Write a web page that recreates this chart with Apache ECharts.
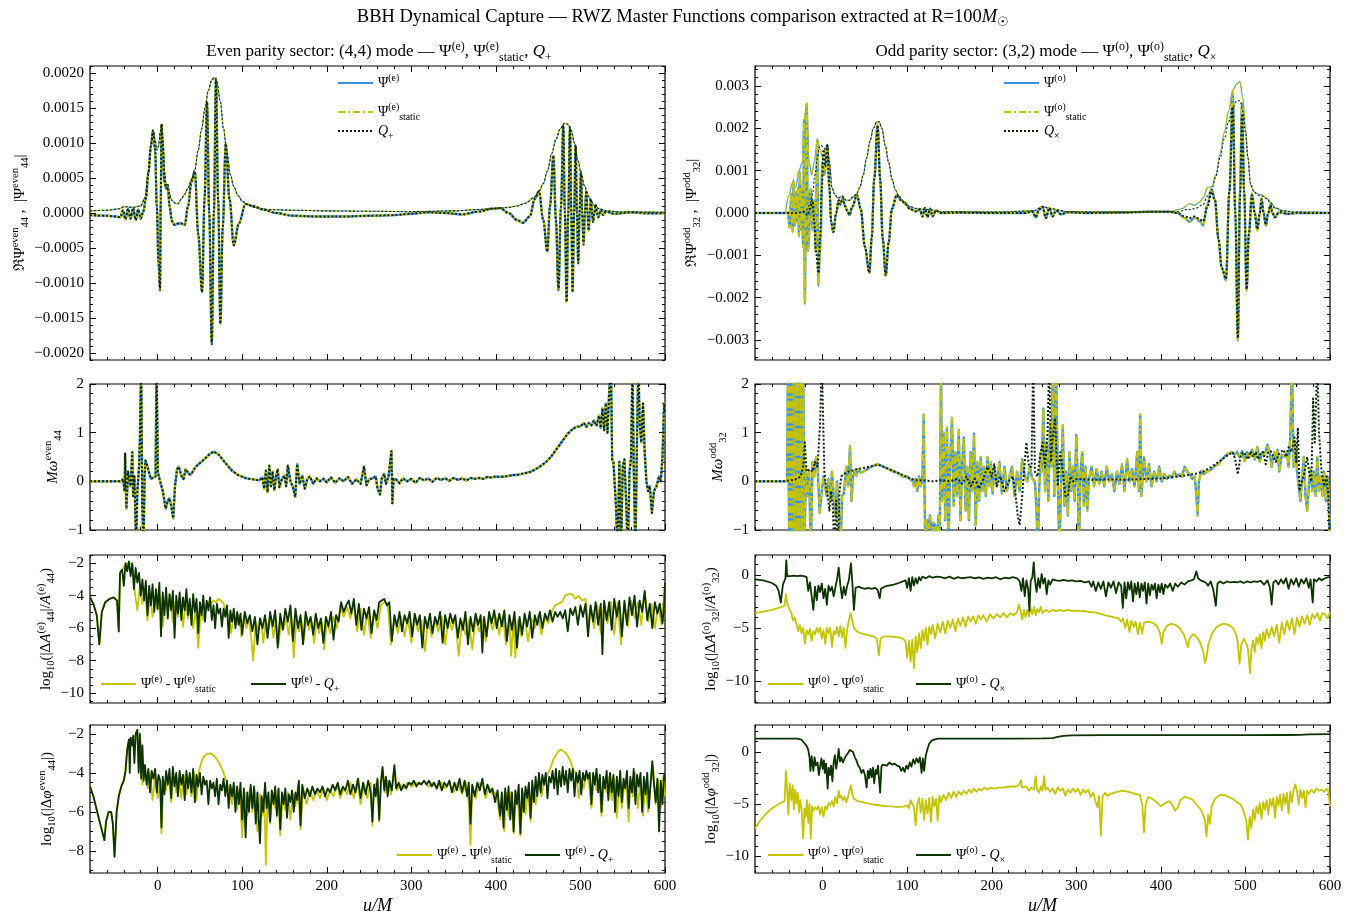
<!DOCTYPE html>
<html><head><meta charset="utf-8"><title>BBH Dynamical Capture</title>
<script src="https://cdn.jsdelivr.net/npm/echarts@6/dist/echarts.min.js"></script>
<style>html,body{margin:0;padding:0;background:#fff}#c{width:1356px;height:913px}</style>
</head><body><div id="c"></div><script>
// ---------------- DATA (u/M, value) ----------------
const PSI_UNIT = 1e-3; // row-1 waveform values are listed in units of 1e-3
const xMajorTicks = [0,100,200,300,400,500,600];
const yTicksReEven = [-0.002,-0.0015,-0.001,-0.0005,0,0.0005,0.001,0.0015,0.002];
const yTicksReOdd = [-0.003,-0.002,-0.001,0,0.001,0.002,0.003];
const yTicksOmega = [-1,0,1,2];
const yTicksAmpEven = [-10,-8,-6,-4,-2];
const yTicksAmpOdd = [-10,-5,0];
const yTicksPhEven = [-8,-6,-4,-2];
const yTicksPhOdd = [-10,-5,0];

const psiEvenRe = [[-80,-0.03],[-70,-0.035],[-60,-0.04],[-50,-0.05],[-44,-0.06],[-41,0.04],[-38,-0.09],[-35,0.06],[-32,-0.08],[-29,0.07],[-26,-0.1],[-23,0.05],[-20,-0.08],[-17,0.02],[-14,0.2],[-11,0.55],[-8,0.95],[-5.5,1.18],[-3,0.9],[-1,0.1],[1,-0.7],[2.8,-1.10],[3.7,0.2],[4.6,1.27],[6,1.0],[8,0.45],[10,0.35],[12,0.4],[14,0.1],[17,-0.12],[20,-0.17],[24,-0.15],[28,-0.15],[32,-0.17],[36,0.1],[40,0.45],[44,0.59],[48,-0.3],[52.5,-1.13],[55.5,0.2],[58.4,1.59],[61,0.0],[64,-1.87],[66.5,0.0],[69,1.92],[71.5,0.2],[74.2,-1.58],[77,-0.2],[80.5,0.99],[85,0.2],[90,-0.46],[96,-0.15],[104,0.13],[112,0.1],[125,0.05],[140,0.0],[160,-0.04],[190,-0.05],[220,-0.05],[250,-0.04],[280,-0.03],[300,-0.01],[320,0.01],[340,0.0],[360,-0.02],[380,0.02],[395,0.06],[405,0.07],[415,0.0],[425,-0.1],[432,-0.14],[440,-0.05],[446,0.2],[451,0.31],[456,-0.1],[460.8,-0.55],[464,0.1],[468,0.82],[471,-0.1],[474,-1.10],[477,0.1],[479.7,1.25],[481.6,0.0],[483.6,-1.27],[485.6,0.0],[487.6,1.23],[489.2,0.0],[490.7,-1.13],[492.5,0.0],[494.3,0.97],[495.9,0.0],[497.4,-0.72],[499,0.0],[500.6,0.59],[502.1,0],[503.7,-0.45],[505.3,0],[506.9,0.32],[508.3,0],[509.7,-0.25],[511,0],[512.4,0.2],[513.7,0],[515,-0.13],[516.5,0],[518,0.12],[519.5,0],[521,-0.06],[524,0.04],[527,-0.03],[530,0.02],[540,-0.01],[560,0.01],[580,-0.005],[600,0.0]];
const psiEvenAbs = [[-80,0.03],[-60,0.04],[-45,0.06],[-40,0.09],[-30,0.08],[-20,0.1],[-15,0.22],[-11,0.6],[-8,0.98],[-5.5,1.18],[-3,1.05],[-1,0.9],[1,0.95],[3,1.15],[4.6,1.27],[6,1.05],[8,0.6],[10,0.42],[13,0.3],[17,0.18],[21,0.14],[24,0.13],[28,0.2],[32,0.27],[36,0.36],[40,0.48],[44,0.62],[48,0.9],[52,1.2],[56,1.5],[60,1.75],[64,1.9],[67,1.93],[70,1.88],[74,1.6],[78,1.2],[82,0.85],[86,0.55],[90,0.38],[95,0.25],[100,0.17],[106,0.12],[115,0.08],[130,0.05],[160,0.04],[200,0.03],[250,0.025],[300,0.02],[350,0.03],[380,0.05],[395,0.06],[405,0.07],[415,0.08],[425,0.1],[435,0.14],[445,0.22],[451,0.31],[456,0.42],[461,0.6],[466,0.85],[471,1.05],[476,1.2],[481,1.28],[485,1.27],[489,1.18],[493,1.0],[497,0.75],[501,0.55],[505,0.38],[509,0.25],[513,0.16],[517,0.1],[522,0.06],[530,0.03],[550,0.015],[600,0.01]];

const psiOddRe = [[-80,0],[-60,0],[-45,0],[-41,0.02],[-39,-0.35],[-37,0.45],[-35.5,-0.45],[-34.5,0.77],[-33,-0.3],[-31.5,0.5],[-30.5,-0.2],[-29,0.6],[-28,-0.55],[-27,0.97],[-25.5,-0.4],[-24.5,0.6],[-23,-0.8],[-22,2.2],[-21,-2.14],[-19.8,1.4],[-18.8,2.58],[-17.5,-0.9],[-16.4,-0.69],[-15,0.5],[-14,0.57],[-12,-0.4],[-10,0.3],[-8.3,-0.92],[-6.3,1.72],[-5.1,-1.71],[-3.5,-1.0],[-2.4,-0.61],[-0.4,1.2],[2,0.9],[5.5,1.6],[8,0.6],[10,-0.2],[12.6,-0.45],[16,0.0],[19,0.3],[21,0.2],[23.5,0.35],[27,0.15],[29,0.05],[31.8,-0.05],[35,0.15],[40.6,0.42],[45,0.1],[50,-0.8],[55.2,-1.41],[58,-0.6],[61,0.8],[65,2.07],[68,0.8],[71,-0.6],[74.6,-1.47],[78,-0.7],[82,0.1],[87.6,0.42],[93,0.3],[97.6,0.22],[103,0.1],[110,0.04],[115,0.08],[118,-0.08],[121,0.12],[124,-0.1],[127,0.1],[130,-0.08],[134,0.06],[140,0.0],[160,0.01],[200,0.0],[240,0.0],[248,0.04],[252,-0.1],[256,0.08],[260,0.15],[264,-0.12],[268,0.12],[272,-0.08],[276,0.06],[282,-0.03],[290,0.02],[310,0.0],[350,0.01],[390,0.03],[410,0.03],[420,0.0],[428,-0.12],[434,-0.21],[440,-0.1],[446,-0.2],[450,-0.29],[455,0.2],[460,0.57],[464,0.3],[468,-0.6],[472,-1.3],[477,-1.59],[481,0.5],[485,2.86],[488,0.0],[491,-3.01],[493.5,0.5],[496,2.6],[498.5,0.5],[501.4,-1.83],[504,-0.5],[507.7,0.46],[511,0.0],[514,-0.41],[517,0.0],[519,0.35],[521.5,0.0],[524,-0.3],[527,0.0],[529.6,0.2],[532,0.0],[534.8,-0.1],[540,0.02],[550,-0.02],[560,0.0],[600,0.0]];
const psiOddAbs = [[-80,0],[-45,0.0],[-40,0.4],[-36,0.7],[-32,0.6],[-28,1.0],[-24,1.2],[-22,2.2],[-18.8,2.6],[-16,1.2],[-13,0.9],[-10,1.2],[-6.3,1.75],[-3,1.5],[0,1.3],[3,1.45],[5.5,1.62],[8,1.2],[11,0.6],[14,0.45],[18,0.35],[23,0.4],[28,0.3],[32,0.3],[36,0.38],[40,0.45],[44,0.6],[48,0.9],[52,1.3],[56,1.7],[60,2.0],[64,2.15],[67,2.15],[70,2.0],[74,1.6],[78,1.2],[82,0.8],[86,0.55],[90,0.4],[96,0.27],[103,0.15],[112,0.1],[125,0.08],[140,0.03],[200,0.02],[250,0.05],[260,0.15],[270,0.1],[290,0.03],[350,0.02],[410,0.03],[425,0.1],[434,0.22],[440,0.18],[445,0.25],[450,0.35],[455,0.6],[460,0.62],[465,0.9],[470,1.4],[475,1.9],[480,2.4],[485,2.9],[490,3.05],[493.5,3.1],[497,2.7],[500,2.0],[503,1.3],[506,0.65],[510,0.5],[515,0.45],[520,0.42],[525,0.35],[530,0.25],[535,0.12],[545,0.05],[560,0.02],[600,0.01]];
const qOddReEarly = [[-80,0],[-45,0],[-30,0.0],[-22,0.03],[-18,-0.05],[-15,0.1],[-12,0.3],[-10,-0.2],[-8,-0.9],[-5,-1.42],[-3,-0.6],[-1,0.6],[1,1.5],[3,1.1],[5.5,1.6]];
const qOddReLate = [[420,0.0],[428,-0.08],[434,-0.12],[440,-0.08],[446,-0.15],[450,-0.2],[455,0.15],[460,0.5],[464,0.3],[468,-0.6],[472,-1.3],[477,-1.55],[481,0.5],[485,2.5],[488,0.0],[491,-2.95],[493.5,0.3],[496,2.3],[498.5,0.5],[501.4,-1.8],[504,-0.5],[507.7,0.42],[511,0.0],[514,-0.38],[517,0.0],[519,0.32],[521.5,0.0],[524,-0.28],[527,0.0],[529.6,0.18],[532,0.0],[534.8,-0.1],[540,0.02],[550,-0.02],[560,0.0],[600,0.0]];
const qOddAbsEarly = [[-80,0],[-30,0.0],[-20,0.05],[-15,0.2],[-12,0.45],[-9,0.9],[-6,1.3],[-4,1.55],[-2,1.6],[1,1.55],[3,1.5],[5.5,1.62]];
const qOddAbsLate = [[420,0.03],[430,0.08],[440,0.1],[450,0.2],[455,0.4],[460,0.55],[465,0.85],[470,1.3],[475,1.75],[480,2.15],[485,2.5],[490,2.65],[493.5,2.65],[497,2.4],[500,1.9],[503,1.3],[506,0.7],[510,0.5],[515,0.42],[520,0.4],[525,0.33],[530,0.23],[535,0.12],[545,0.05],[560,0.02],[600,0.01]];

const omegaEven = [[-80,0],[-60,0],[-43,0],[-41,0.05],[-39,-0.2],[-38.5,0.57],[-37,-0.56],[-35,0.2],[-34,0.07],[-32,-0.1],[-30,0.6],[-29,-0.3],[-27.5,0.1],[-25.5,-1.3],[-24,-0.2],[-22,0.3],[-21,0.84],[-19.5,2.5],[-18.2,-0.5],[-16.6,-1.4],[-15.5,0.1],[-14.4,0.43],[-12,0.3],[-8,0.05],[-5,0.08],[-2.5,0.1],[-1.3,2.5],[0.2,0.2],[1.5,0.09],[3,0.0],[6,-0.2],[9.6,-0.56],[12,-0.4],[14,-0.35],[16,-0.5],[18.4,-0.76],[20.5,-0.1],[23,0.25],[25,0.3],[28,0.12],[30.6,0.05],[33,0.25],[35,0.28],[37,0.15],[39.4,0.14],[45,0.3],[55,0.45],[62,0.57],[66.5,0.61],[72,0.55],[80,0.38],[88,0.22],[95,0.13],[105,0.06],[114,0.04],[120,0.02],[124,0.08],[126,-0.15],[128,0.22],[130,-0.22],[132,0.32],[134,-0.1],[136,0.2],[138,-0.18],[140,0.1],[142,0.25],[144,-0.12],[147,0.05],[150,0.12],[152,-0.1],[154,0.32],[157,0.0],[160,-0.12],[162.7,-0.32],[165,0.35],[168,-0.05],[171,0.12],[174,-0.15],[177,0.05],[180,0.1],[184,-0.05],[188,0.06],[192,0.0],[196,0.05],[200,-0.02],[205,0.08],[210,-0.03],[215,0.06],[220,0.0],[225,0.09],[230,-0.05],[235,0.04],[240,-0.05],[244,0.3],[247,-0.08],[250,0.04],[254,0.06],[258,0.1],[260,-0.15],[263,-0.27],[265,0.05],[268,0.15],[270,-0.05],[273,0.1],[276.5,0.62],[277.5,-0.45],[279,0.05],[282,0.04],[286,-0.04],[290,0.06],[295,0.0],[300,0.05],[305,-0.03],[310,0.07],[315,0.02],[320,0.06],[325,-0.01],[330,0.07],[335,0.03],[340,0.06],[345,0.01],[350,0.07],[355,0.03],[360,0.06],[365,0.02],[370,0.07],[375,0.05],[380,0.07],[385,0.05],[390,0.09],[395,0.08],[400,0.1],[405,0.09],[410,0.1],[415,0.11],[420,0.13],[425,0.13],[430,0.15],[435,0.17],[440,0.19],[445,0.23],[450,0.28],[455,0.34],[460,0.41],[465,0.5],[470,0.62],[475,0.74],[480,0.86],[485,0.98],[490,1.06],[495,1.12],[500,1.13],[504,1.2],[507,1.12],[510,1.2],[513,1.15],[516,1.25],[519,1.14],[522,1.35],[524,1.1],[526,1.5],[528,1.05],[530,1.6],[532,1.0],[534,1.85],[536,2.5],[537.5,0.45],[539,0.4],[542,-0.5],[544,-1.5],[546,0.4],[548,-1.5],[550,0.3],[552,0.45],[554,-0.4],[556,-1.5],[558,0.2],[560,0.5],[561.5,2.5],[563,0.3],[565,-1.5],[567,1.0],[568.5,2.5],[570,1.2],[572,0.8],[574,1.6],[576,0.6],[578,0.0],[580,-0.2],[582,-0.1],[584.5,-0.65],[587,-0.2],[590,-0.1],[593,0.1],[595,0.0],[597,0.5],[599,1.6],[600,1.4]];
const omegaOdd = [[-80,0],[-60,0],[-42,0],[-41,2.5],[-39.5,-1.5],[-38,2.5],[-36.5,-1.5],[-35,2.5],[-33.5,-1.5],[-32,2.5],[-30.5,-1.5],[-29,2.5],[-27.5,-1.5],[-26,2.5],[-24.5,-1.5],[-23,2.5],[-21.5,-1.5],[-20,0.3],[-18,-0.3],[-16,0.2],[-14,-1.5],[-12,0.4],[-10,0.1],[-7.8,0.5],[-6,0.3],[-3.5,-0.65],[-1,-0.2],[1,0.1],[3,-0.1],[5,-0.3],[7,0.05],[9.6,-0.4],[11,0.2],[13,-0.3],[15,-0.7],[17,0.0],[19,-0.6],[21,-1.5],[23,-0.3],[25,-0.25],[28,0.3],[30,-0.1],[32.4,0.72],[34,-0.4],[36,0.1],[38,0.22],[40,0.12],[42,0.25],[45,0.18],[48,0.2],[52,0.24],[56,0.28],[60,0.32],[64,0.35],[67,0.34],[72,0.3],[78,0.25],[84,0.2],[90,0.16],[95,0.1],[100,0.1],[103,0.05],[106,0.02],[108,-0.1],[110,0.05],[112,-0.2],[114,0.1],[116,-0.1],[118,0.05],[119.5,1.37],[120.5,-0.2],[121.5,-1.5],[123,-0.8],[125,-0.95],[127,-0.7],[129,-1.2],[131,-0.85],[133,-0.9],[135,-1.3],[137,-0.7],[138.5,-1.2],[140,2.5],[141,-0.4],[143,1.0],[145,-0.8],[147,1.1],[149,-1.2],[151,0.5],[153,1.3],[155,-0.5],[157,0.6],[159,-0.3],[161,1.05],[163,-0.8],[165,0.4],[167,0.9],[169,-0.6],[171,0.3],[173,-0.8],[175,0.6],[177,-0.2],[179,0.98],[181,-0.9],[183,0.4],[185,-0.4],[187,0.5],[189,-0.2],[191,0.3],[193,-0.3],[195,0.5],[197,-0.1],[199,0.4],[201,-0.25],[203,0.3],[206,-0.1],[209,0.4],[212,-0.25],[215,0.3],[218,-0.2],[221,0.1],[224,0.3],[227,-0.3],[230,0.2],[233,-0.2],[236,0.45],[239,0.1],[242,0.0],[245,0.3],[248,0.05],[251,0.0],[253,-0.6],[254.5,-1.5],[256,-0.2],[258,0.6],[259,0.2],[261,1.5],[263,-0.2],[265,0.8],[267,-0.4],[269,1.2],[271,0.3],[272,2.5],[274,-0.3],[276,2.5],[278,0.1],[280,-1.5],[282,0.0],[284,1.15],[286,-0.5],[288,0.2],[290,-0.7],[292,0.6],[294,-0.2],[296,0.3],[298,-0.4],[300,0.95],[302,-0.2],[303,-1.5],[305,0.2],[307,0.6],[309,-0.5],[311,0.3],[313,-0.6],[315,0.05],[318,0.3],[321,-0.1],[324,0.25],[327,-0.05],[330,0.2],[333,-0.1],[336,0.3],[339,0.0],[342,0.15],[345,-0.2],[348,0.2],[351,-0.05],[354,0.35],[357,-0.2],[360,0.45],[363,0.0],[366,0.25],[369,-0.1],[372,0.6],[374,-0.2],[375.5,1.37],[377,-0.3],[380,0.5],[383,0.0],[386,0.35],[389,-0.1],[392,0.2],[395,0.0],[398,0.3],[401,0.0],[404,0.15],[407,0.05],[410,0.12],[413,0.08],[416,0.2],[419,0.1],[422,0.14],[425,0.1],[428,0.3],[431,0.2],[434,0.15],[437,0.05],[440,0.1],[442,-0.3],[443.5,-0.7],[445,0.0],[448,0.22],[451,0.15],[455,0.2],[460,0.25],[464,0.32],[468,0.35],[472,0.45],[476,0.52],[480,0.57],[484,0.6],[487,0.55],[490,0.6],[493,0.5],[496,0.62],[499,0.42],[502,0.6],[505,0.5],[508,0.65],[511,0.45],[514,0.7],[517,0.4],[520,0.6],[523,0.55],[526,0.75],[529,0.55],[531,0.3],[534,0.6],[536,0.45],[538,0.65],[540,0.2],[543,0.55],[546,0.5],[549,0.6],[551,0.3],[553,0.9],[555,2.5],[557,0.3],[559,0.8],[561,0.2],[563,-0.1],[565,-0.4],[567,0.1],[569,0.5],[571,-0.3],[573,-0.6],[575,-0.1],[577,0.25],[579,-0.2],[581,0.2],[583,-0.3],[585,0.5],[587,-0.2],[589,0.1],[591,-0.3],[593,0.2],[595,-0.4],[597,0.1],[598.5,-0.3],[600,-1.5]];
const qOmegaOdd = [[-80,0],[-44,0],[-40,0.02],[-35,0.03],[-30,0.05],[-26,0.1],[-23,0.3],[-21,0.8],[-19,0.2],[-17,0.18],[-15,0.25],[-12,0.2],[-9,0.4],[-6,0.3],[-3,1.2],[-1,2.5],[0.5,2.5],[2,0.2],[4,-0.1],[6,-0.3],[8,-0.6],[10,-0.2],[12,-0.5],[14,-1.5],[16,-0.4],[18,-1.5],[20,-0.2],[22,0.1],[25,0.15],[30,0.2],[35,0.22],[40,0.25],[50,0.28],[60,0.32],[66,0.34],[72,0.3],[80,0.24],[90,0.17],[100,0.08],[110,0.02],[120,0.02],[130,0.0],[140,0.02],[150,0.0],[160,0.05],[165,-0.05],[170,0.1],[175,-0.1],[180,0.05],[185,-0.15],[190,0.05],[195,0.3],[200,0.1],[203,0.35],[206,-0.1],[210,0.1],[215,-0.2],[220,0.0],[225,0.1],[228,-0.25],[230.7,-0.7],[233,-0.9],[236,-0.3],[239,0.4],[241,0.8],[244,0.3],[247,0.3],[249,2.5],[251,0.2],[254,0.1],[257,0.5],[260,0.8],[263,0.3],[266,1.0],[268,2.5],[270,0.4],[272,0.9],[275,1.3],[278,-0.1],[281,0.6],[284,0.2],[287,-0.3],[290,-0.3],[293,0.1],[296,0.0],[300,0.05],[320,0.03],[340,0.04],[360,0.03],[380,0.05],[400,0.06],[420,0.1],[440,0.15],[450,0.2],[460,0.3],[470,0.42],[480,0.55],[485,0.6],[488,0.45],[491,0.14],[494,0.5],[497,0.6],[500,0.55],[503,0.45],[506,0.62],[509,0.5],[512,0.6],[515,0.45],[518,0.58],[521,0.6],[524,0.35],[527,0.6],[530,0.62],[533,0.5],[536,0.4],[539,0.55],[542,0.6],[545,0.65],[548,0.5],[551,0.7],[554,0.6],[558,0.9],[560,0.4],[562,1.1],[564,-0.2],[567,0.0],[570,0.2],[573,0.5],[576,0.1],[578,0.0],[580,1.7],[582,0.8],[585,2.5],[587,1.0],[590,0.2],[593,-0.1],[596,0.1],[598,-0.3],[600,-1.5]];

const ampEvenStatic = [[-80,-4.1],[-76,-4.5],[-72,-5.2],[-69,-7.0],[-66,-5.0],[-62,-4.4],[-57,-4.2],[-52,-4.1],[-48,-4.3],[-46,-6.2],[-44.5,-2.6],[-42,-2.4],[-38,-2.1],[-34,-2.0],[-30,-2.1],[-27,-3.8],[-24,-4.9],[-21,-3.4],[-18,-4.5],[-15,-3.6],[-12,-5.5],[-9,-4.0],[-6,-5.3],[-3,-4.2],[0,-4.9],[3,-4.1],[6,-5.9],[9,-4.3],[12,-5.0],[15,-4.0],[18,-5.6],[21,-4.4],[24,-5.3],[27,-4.2],[30,-5.9],[33,-4.5],[36,-5.4],[39,-4.6],[42,-6.0],[45,-4.8],[48,-7.2],[51,-4.9],[54,-5.5],[57,-4.6],[60,-4.4],[63,-4.5],[66,-4.3],[69,-4.4],[72,-4.2],[75,-4.3],[78,-4.5],[81,-5.0],[84,-5.2],[87,-6.3],[90,-5.1],[93,-5.8],[96,-5.2],[99,-6.5],[102,-5.3],[105,-6.0],[108,-5.4],[111,-6.8],[113,-8.0],[116,-5.6],[119,-6.2],[122,-5.4],[125,-6.9],[128,-5.5],[131,-6.1],[134,-5.3],[137,-6.6],[140,-5.4],[143,-7.0],[146,-5.6],[149,-6.0],[152,-5.3],[155,-6.4],[158,-5.2],[161,-7.8],[164,-5.4],[167,-6.2],[170,-5.5],[173,-6.7],[176,-5.4],[179,-6.1],[182,-5.6],[185,-6.9],[188,-5.5],[191,-6.3],[194,-5.6],[197,-7.3],[200,-5.5],[204,-6.3],[208,-5.3],[212,-6.0],[216,-4.6],[220,-5.3],[224,-4.7],[228,-5.4],[232,-4.5],[236,-6.2],[240,-4.8],[244,-6.4],[248,-5.0],[252,-6.6],[256,-5.1],[260,-6.0],[264,-4.6],[268,-4.4],[272,-4.5],[276,-7.0],[280,-5.4],[284,-6.3],[288,-5.3],[292,-6.5],[296,-5.4],[300,-6.9],[304,-5.3],[308,-6.2],[312,-5.5],[316,-7.4],[320,-5.5],[324,-6.5],[328,-5.5],[332,-6.2],[336,-5.3],[340,-7.0],[344,-5.4],[348,-6.1],[352,-5.4],[356,-7.7],[360,-5.6],[364,-6.4],[368,-5.5],[372,-7.3],[376,-5.4],[380,-6.2],[384,-5.5],[388,-6.8],[392,-5.3],[396,-6.1],[400,-5.3],[404,-6.4],[408,-5.2],[412,-7.0],[416,-5.4],[418,-7.7],[421,-5.5],[423,-7.8],[426,-5.5],[430,-6.5],[434,-5.3],[438,-6.8],[442,-5.4],[446,-6.0],[450,-5.2],[454,-6.4],[458,-5.3],[462,-5.7],[466,-5.0],[470,-4.6],[474,-4.5],[478,-4.4],[482,-4.0],[486,-3.9],[490,-3.9],[494,-4.2],[498,-4.0],[502,-4.3],[506,-4.2],[509,-5.8],[512,-4.6],[516,-6.0],[520,-4.6],[524,-6.3],[528,-4.5],[532,-5.7],[536,-4.4],[540,-6.4],[544,-4.4],[548,-7.0],[552,-4.5],[556,-5.9],[560,-4.3],[564,-5.4],[568,-4.4],[572,-5.8],[576,-3.8],[580,-5.6],[584,-4.5],[588,-6.0],[592,-4.6],[596,-5.8],[600,-3.3]];
const ampEvenQ = [[-80,-4.1],[-76,-4.5],[-72,-5.2],[-69,-7.0],[-66,-5.0],[-62,-4.4],[-57,-4.2],[-52,-4.1],[-48,-4.3],[-46,-6.2],[-44.5,-2.6],[-42,-2.4],[-40,-3.4],[-38,-2.0],[-36,-2.5],[-34,-1.9],[-32,-2.8],[-30,-2.0],[-28,-3.6],[-26,-2.3],[-24,-3.2],[-22,-2.6],[-20,-4.0],[-18,-3.0],[-16,-4.3],[-14,-3.1],[-12,-5.2],[-10,-3.4],[-8,-4.6],[-6,-3.3],[-4,-5.0],[-2,-3.6],[0,-4.8],[2,-3.2],[4,-6.5],[6,-3.8],[8,-5.2],[10,-3.5],[12,-5.4],[14,-3.9],[16,-4.9],[18,-3.7],[20,-6.6],[22,-4.0],[24,-5.1],[26,-3.8],[28,-5.5],[30,-4.1],[32,-4.9],[34,-3.6],[36,-5.2],[38,-4.2],[40,-5.8],[42,-3.9],[44,-5.0],[46,-4.2],[48,-6.3],[50,-4.4],[52,-5.2],[54,-4.0],[56,-5.6],[58,-4.3],[60,-4.9],[62,-4.1],[64,-5.5],[66,-4.6],[68,-6.0],[70,-4.5],[72,-5.1],[74,-4.8],[76,-5.9],[78,-4.8],[80,-5.3],[82,-4.6],[84,-6.6],[86,-4.9],[88,-5.6],[90,-4.8],[92,-6.0],[94,-5.0],[96,-5.8],[98,-5.1],[100,-6.4],[103,-5.0],[106,-5.7],[109,-5.2],[112,-6.2],[115,-5.3],[118,-7.0],[121,-5.4],[124,-6.0],[127,-5.2],[130,-6.6],[133,-5.0],[136,-5.9],[139,-4.9],[142,-7.2],[145,-5.1],[148,-6.1],[151,-4.8],[154,-5.6],[157,-4.6],[160,-6.8],[163,-4.8],[166,-6.0],[169,-5.2],[172,-7.0],[175,-5.0],[178,-5.8],[181,-5.3],[184,-6.4],[187,-5.1],[190,-6.0],[193,-5.4],[196,-6.9],[199,-5.3],[202,-5.9],[205,-5.0],[208,-6.7],[211,-5.2],[214,-5.6],[217,-4.4],[220,-5.0],[223,-4.6],[226,-4.3],[229,-5.1],[232,-4.2],[235,-5.8],[238,-4.5],[241,-6.1],[244,-4.8],[247,-5.4],[250,-4.7],[253,-6.3],[256,-4.9],[259,-5.5],[262,-4.4],[265,-4.3],[268,-4.2],[271,-4.6],[274,-4.4],[277,-6.8],[280,-5.2],[283,-5.9],[286,-5.0],[289,-6.2],[292,-5.2],[295,-5.7],[298,-5.0],[301,-6.5],[304,-5.1],[307,-5.8],[310,-5.2],[313,-7.2],[316,-5.3],[319,-6.0],[322,-5.1],[325,-6.3],[328,-5.3],[331,-5.8],[334,-5.0],[337,-6.9],[340,-5.2],[343,-6.0],[346,-5.1],[349,-5.7],[352,-5.2],[355,-6.6],[358,-5.4],[361,-6.1],[364,-5.0],[367,-7.0],[370,-5.3],[373,-6.2],[376,-5.1],[379,-5.8],[382,-5.2],[384,-7.5],[386,-5.3],[389,-6.5],[392,-5.0],[395,-5.7],[398,-4.9],[401,-6.0],[404,-5.1],[407,-5.9],[410,-4.9],[413,-6.8],[416,-5.2],[419,-6.1],[422,-5.0],[425,-7.2],[428,-5.3],[431,-6.4],[434,-5.1],[437,-5.9],[440,-5.0],[443,-6.6],[446,-5.2],[449,-5.8],[452,-5.0],[455,-6.0],[458,-5.1],[461,-5.5],[464,-4.9],[467,-5.6],[470,-5.0],[473,-5.3],[476,-5.0],[479,-5.4],[482,-4.9],[485,-6.2],[488,-4.8],[491,-5.2],[494,-4.7],[497,-5.8],[500,-4.6],[503,-5.3],[506,-4.5],[509,-6.5],[512,-4.6],[515,-5.6],[518,-4.4],[521,-5.8],[524,-4.5],[526,-7.6],[528,-4.3],[531,-5.5],[534,-4.4],[537,-6.1],[540,-4.2],[543,-5.3],[546,-4.3],[549,-6.5],[552,-4.3],[555,-5.8],[558,-4.1],[561,-5.2],[564,-4.0],[567,-5.9],[570,-4.3],[573,-5.0],[576,-3.7],[579,-5.5],[582,-4.5],[585,-6.0],[588,-4.4],[591,-5.1],[594,-4.5],[597,-5.7],[599,-4.6],[600,-3.2]];
const ampOddStatic = [[-80,-3.6],[-70,-3.45],[-60,-3.3],[-50,-3.05],[-45,-2.9],[-43.5,-1.8],[-42,-2.6],[-40,-3.1],[-37,-3.6],[-35,-4.3],[-33,-4.0],[-31,-4.6],[-29,-5.3],[-27,-4.7],[-25,-5.5],[-23,-5.0],[-21,-6.5],[-19,-5.2],[-17,-5.6],[-15,-5.1],[-13,-6.2],[-11,-5.3],[-9,-5.6],[-7,-5.0],[-5,-5.4],[-3,-5.0],[-1,-6.0],[1,-5.2],[3,-6.5],[5,-5.0],[7,-5.5],[9,-5.0],[11,-6.8],[13,-5.3],[15,-5.6],[17,-4.9],[19,-5.8],[21,-4.8],[23,-5.9],[25,-5.0],[27,-6.9],[29,-5.1],[31,-4.3],[33,-3.6],[35,-4.3],[37,-5.0],[40,-5.3],[45,-5.5],[50,-5.6],[55,-5.7],[60,-5.8],[64,-6.0],[66.5,-7.6],[68.5,-6.0],[72,-5.8],[78,-5.8],[84,-5.85],[90,-5.9],[95,-6.0],[98,-6.3],[100,-7.8],[102,-6.2],[104,-8.2],[106,-6.1],[108,-8.8],[110,-5.8],[112,-7.3],[114,-5.5],[116,-6.9],[118,-5.2],[120,-6.2],[122,-5.0],[124,-6.6],[126,-4.9],[128,-5.6],[130,-4.7],[133,-6.0],[136,-4.6],[139,-5.4],[142,-4.4],[145,-5.5],[148,-4.3],[151,-5.0],[154,-4.2],[157,-5.3],[160,-4.1],[163,-4.8],[166,-4.0],[169,-4.9],[172,-3.9],[175,-4.4],[178,-3.9],[181,-4.6],[184,-3.8],[187,-4.2],[190,-3.8],[194,-4.4],[198,-3.7],[202,-4.1],[206,-3.7],[210,-4.0],[214,-3.6],[218,-4.0],[222,-3.6],[226,-3.8],[230,-3.5],[232,-2.8],[234,-3.4],[236,-4.2],[238,-3.3],[240,-4.0],[242,-3.3],[244,-3.9],[246,-3.1],[248,-3.7],[250,-3.0],[252,-3.8],[254,-3.2],[256,-3.5],[258,-3.0],[260,-3.6],[264,-3.3],[268,-3.5],[272,-3.3],[276,-3.4],[280,-3.3],[285,-3.4],[290,-3.3],[295,-3.4],[300,-3.35],[305,-3.4],[310,-3.4],[315,-3.5],[320,-3.5],[325,-3.6],[330,-3.7],[335,-3.8],[340,-3.9],[345,-4.0],[350,-4.1],[353,-4.4],[355,-4.1],[358,-5.0],[360,-4.2],[363,-5.4],[365,-4.3],[368,-4.9],[370,-4.4],[373,-5.6],[375,-4.5],[378,-5.5],[380,-4.5],[385,-4.4],[390,-4.5],[395,-4.8],[399,-5.5],[401,-6.5],[403,-5.4],[407,-4.8],[412,-4.6],[417,-4.7],[422,-5.0],[427,-5.6],[430,-6.3],[432,-6.8],[434,-6.0],[438,-5.6],[442,-5.8],[446,-6.3],[450,-7.2],[452,-8.3],[454,-7.8],[456,-6.6],[460,-5.6],[465,-5.0],[470,-4.7],[475,-4.6],[480,-4.7],[485,-5.0],[489,-5.6],[491,-6.4],[493,-8.4],[495,-6.6],[498,-6.0],[501,-6.5],[503,-7.0],[505.5,-9.3],[507,-7.0],[509,-6.2],[511,-7.3],[513,-5.9],[515,-6.5],[517,-5.6],[519,-6.9],[521,-5.4],[523,-6.2],[525,-5.1],[528,-5.9],[531,-4.9],[534,-5.8],[537,-4.7],[540,-6.4],[543,-4.5],[546,-5.6],[549,-4.3],[552,-5.2],[555,-4.1],[558,-5.6],[561,-4.0],[564,-4.9],[567,-3.9],[570,-4.6],[573,-3.8],[576,-4.7],[579,-3.7],[582,-4.1],[585,-3.6],[588,-4.3],[591,-3.6],[594,-3.7],[597,-4.1],[600,-3.5]];
const ampOddQ = [[-80,-0.4],[-70,-0.5],[-60,-0.75],[-55,-1.0],[-52,-1.5],[-49.5,-2.6],[-47,-0.9],[-44,-0.3],[-43,1.4],[-42,-0.1],[-38,-0.1],[-34,-0.05],[-30,-0.1],[-26,-0.05],[-22,-0.1],[-19,-0.2],[-17,-1.5],[-15,-0.7],[-13,-2.0],[-11,-3.3],[-9,-1.1],[-7,-2.4],[-5,-1.0],[-3,-1.6],[-1,-0.8],[1,-2.2],[3,-1.3],[5,-2.8],[7,-1.0],[9,-1.5],[11,-1.1],[13,-2.0],[15,-1.2],[17,-0.4],[19,0.7],[21,-1.0],[23,-2.2],[25,-1.1],[27,-1.9],[29,-1.0],[31,-0.5],[33.5,1.1],[35,-0.6],[37,-3.3],[39,-1.2],[42,-1.1],[46,-1.2],[50,-1.3],[54,-1.2],[58,-1.3],[62,-1.2],[65,-1.4],[67.5,-2.2],[69,-1.3],[73,-1.1],[78,-1.0],[84,-0.9],[90,-0.75],[95,-0.6],[98,-0.5],[100,-1.2],[102,-0.3],[104,-1.5],[106,-0.2],[108,-1.0],[110,-0.3],[112,-0.8],[114,-0.2],[116,-0.5],[118,-0.15],[122,-0.3],[126,-0.1],[130,-0.25],[135,-0.15],[140,-0.2],[145,-0.3],[150,-0.15],[155,-0.35],[160,-0.2],[165,-0.3],[170,-0.25],[175,-0.2],[180,-0.3],[185,-0.22],[190,-0.35],[195,-0.25],[200,-0.3],[205,-0.2],[210,-0.4],[215,-0.25],[220,-0.3],[225,-0.2],[230,-0.3],[233,-0.6],[235,-1.5],[237,-0.3],[239,-2.0],[241,-0.5],[243,-1.3],[244.5,-3.4],[246,-0.6],[248,-0.2],[249.6,1.2],[251,-0.4],[253,-1.6],[255,-0.3],[257,-1.2],[259,0.1],[261,-0.8],[263,-0.3],[265,-1.8],[267,-0.5],[269,-0.9],[272,-0.4],[276,-0.5],[280,-0.55],[285,-0.45],[290,-0.55],[295,-0.5],[300,-0.6],[305,-0.55],[310,-0.7],[315,-0.6],[318,-1.1],[320,-0.6],[323,-1.5],[326,-0.7],[329,-1.3],[332,-0.6],[335,-2.0],[338,-0.7],[341,-1.2],[344,-0.6],[347,-1.7],[350,-0.7],[353,-1.0],[355,-3.1],[357,-0.7],[359,-2.2],[361,-0.7],[363,-1.4],[365,-0.6],[367,-2.5],[369,-0.8],[371,-1.8],[373,-0.7],[375,-2.1],[377,-0.8],[379,-1.5],[381,-0.7],[383,-2.7],[385,-0.8],[387,-1.9],[389,-0.9],[391,-1.4],[393,-0.8],[395,-2.2],[397,-0.9],[399,-1.6],[401,-0.8],[403,-1.8],[405,-0.9],[408,-1.2],[411,-0.8],[414,-1.5],[417,-0.8],[420,-1.1],[424,-0.7],[428,-0.9],[432,-0.6],[436,-0.5],[439,-0.4],[442,0.35],[444,-0.3],[447,-0.5],[450,-0.6],[453,-0.7],[456,-1.0],[459,-0.6],[462,-1.4],[465,-2.9],[467,-0.8],[470,-0.6],[474,-0.8],[478,-0.6],[482,-0.7],[486,-0.65],[490,-0.7],[494,-0.6],[498,-0.75],[502,-0.6],[506,-0.7],[510,-0.6],[514,-0.65],[518,-0.55],[522,-0.9],[526,-0.5],[529,-1.2],[531,-2.8],[533,-0.7],[536,-0.5],[539,-0.9],[542,-0.4],[545,-0.8],[548,-0.3],[551,-1.3],[554,-0.4],[557,-0.9],[560,-0.3],[563,-1.1],[566,-0.4],[569,-0.8],[572,-0.3],[575,-1.2],[577,-0.4],[579.6,-2.6],[581,-0.4],[584,-0.6],[587,-0.3],[590,-0.5],[594,-0.3],[598,-0.2],[600,-0.2]];

const phaseEvenStatic = [[-80,-4.7],[-76,-5.2],[-72,-5.9],[-68,-6.6],[-65,-7.1],[-63,-7.45],[-61,-6.5],[-58,-6.0],[-55,-6.0],[-53,-6.6],[-51,-8.3],[-48.5,-6.0],[-46,-5.2],[-43,-4.7],[-40,-4.4],[-38,-3.9],[-36,-2.8],[-34,-2.3],[-32,-2.3],[-29,-2.2],[-26,-2.1],[-24,-1.9],[-22,-3.8],[-20,-2.4],[-18,-4.6],[-15,-3.8],[-12,-4.8],[-9,-4.0],[-6,-5.4],[-3,-4.2],[0,-5.3],[3,-4.5],[4.5,-7.1],[7,-4.4],[10,-4.9],[13,-4.0],[16,-5.5],[19,-4.1],[22,-5.0],[25,-4.3],[28,-5.3],[31,-4.1],[34,-5.1],[37,-4.2],[40,-5.2],[43,-4.0],[46,-5.4],[49,-3.9],[52,-3.4],[55,-3.15],[58,-3.05],[62,-3.0],[66,-3.1],[70,-3.3],[74,-3.6],[78,-4.0],[82,-4.5],[85,-5.0],[88,-5.6],[91,-4.7],[94,-5.9],[97,-4.8],[100,-7.3],[103,-5.0],[106,-6.2],[109,-4.8],[112,-6.0],[115,-4.9],[118,-7.0],[121,-5.1],[124,-6.2],[126,-5.0],[128,-8.7],[130,-5.2],[133,-6.6],[136,-5.0],[139,-5.8],[142,-4.9],[145,-7.2],[148,-5.1],[151,-5.9],[154,-5.0],[157,-6.4],[160,-5.1],[163,-5.7],[166,-4.6],[169,-6.9],[172,-4.8],[176,-5.6],[180,-4.9],[184,-5.4],[188,-4.9],[192,-5.3],[196,-4.8],[200,-5.4],[204,-4.9],[208,-5.2],[212,-4.6],[216,-5.3],[220,-4.8],[224,-5.1],[228,-4.5],[232,-5.3],[236,-4.4],[240,-5.6],[244,-4.6],[248,-5.3],[252,-4.5],[254,-6.7],[256,-4.7],[260,-4.4],[262,-6.5],[264,-4.6],[266,-3.8],[269,-5.0],[272,-4.4],[276,-5.1],[280,-3.7],[283,-4.9],[287,-4.6],[291,-4.8],[295,-4.5],[300,-4.7],[305,-4.5],[310,-4.6],[315,-4.4],[320,-4.7],[325,-4.5],[330,-4.8],[335,-4.5],[340,-4.8],[345,-4.5],[350,-5.0],[355,-4.5],[360,-5.1],[365,-4.5],[368,-5.6],[370,-7.7],[372,-4.7],[376,-5.3],[380,-4.6],[384,-4.5],[388,-5.3],[392,-4.7],[396,-5.1],[400,-5.0],[403,-5.8],[405,-6.4],[408,-5.1],[410,-7.0],[412,-5.0],[415,-6.2],[418,-5.0],[421,-7.1],[424,-5.0],[427,-5.9],[429,-7.2],[432,-5.0],[435,-6.1],[438,-4.9],[441,-6.5],[444,-4.7],[447,-5.6],[450,-4.4],[454,-5.2],[458,-4.3],[462,-4.0],[465,-3.7],[468,-3.3],[471,-3.1],[474,-2.9],[477,-2.8],[480,-2.9],[483,-3.0],[486,-3.2],[489,-3.5],[492,-3.9],[495,-4.0],[498,-5.3],[501,-4.3],[504,-4.8],[507,-4.1],[510,-4.5],[513,-5.8],[516,-4.2],[519,-4.9],[522,-4.3],[525,-6.2],[528,-4.4],[531,-5.0],[534,-4.2],[537,-5.4],[540,-4.3],[543,-6.3],[546,-4.4],[549,-5.8],[552,-4.5],[555,-5.0],[557,-6.5],[559,-4.4],[562,-5.2],[565,-4.0],[568,-5.8],[571,-4.3],[574,-6.2],[577,-4.4],[580,-6.0],[583,-4.6],[586,-3.7],[589,-5.6],[592,-4.4],[595,-5.8],[598,-4.2],[600,-5.2]];
const phaseEvenQ = [[-80,-4.7],[-76,-5.2],[-72,-5.9],[-68,-6.6],[-65,-7.1],[-63,-7.45],[-61,-6.5],[-58,-6.0],[-55,-6.0],[-53,-6.6],[-51,-8.3],[-48.5,-6.0],[-46,-5.2],[-43,-4.7],[-40,-4.4],[-38,-3.9],[-36,-2.8],[-34,-2.3],[-33,-4.0],[-32,-2.2],[-30,-2.6],[-29,-2.1],[-27.5,-3.5],[-26,-2.0],[-24,-1.8],[-22.5,-4.0],[-21,-2.0],[-19.5,-4.3],[-18,-2.6],[-16.5,-4.4],[-15,-3.6],[-13,-4.6],[-11,-3.8],[-9,-5.0],[-7,-3.9],[-5,-4.3],[-3,-3.8],[-1,-5.0],[1,-4.1],[3,-4.4],[4.5,-6.8],[6,-4.2],[8,-5.1],[10,-3.9],[12,-4.6],[14,-3.8],[16,-5.3],[18,-3.7],[20,-4.7],[22,-4.0],[24,-5.2],[26,-3.9],[28,-4.6],[30,-4.1],[32,-5.4],[34,-3.9],[36,-4.8],[38,-4.0],[40,-5.0],[42,-3.8],[44,-5.5],[46,-4.1],[48,-4.7],[50,-4.0],[52,-5.1],[54,-4.2],[56,-4.6],[58,-4.4],[60,-5.6],[62,-4.4],[64,-4.8],[66,-4.5],[68,-5.2],[70,-4.3],[72,-5.6],[74,-4.6],[76,-4.9],[78,-4.3],[80,-5.2],[82,-4.4],[84,-5.8],[86,-4.6],[88,-5.2],[90,-4.5],[92,-6.0],[94,-4.7],[96,-5.6],[98,-4.5],[100,-6.4],[102,-4.8],[104,-7.3],[106,-5.0],[108,-6.0],[110,-4.6],[112,-5.8],[114,-4.7],[116,-6.6],[118,-5.0],[121,-7.6],[123,-5.2],[125,-6.0],[127,-4.5],[129,-5.8],[131,-5.0],[133,-6.5],[135,-4.9],[137,-5.6],[139,-4.7],[141,-6.2],[143,-4.8],[145,-6.9],[147,-5.0],[149,-5.6],[151,-4.8],[153,-6.3],[155,-5.1],[157,-5.5],[159,-4.9],[161,-6.0],[163,-5.0],[165,-5.4],[167,-4.4],[169,-6.7],[171,-4.6],[174,-5.3],[177,-4.8],[180,-5.2],[183,-4.7],[186,-5.1],[189,-4.8],[192,-5.0],[195,-4.7],[198,-5.2],[201,-4.8],[204,-5.0],[207,-4.6],[210,-4.9],[213,-4.5],[216,-5.1],[219,-4.7],[222,-4.9],[225,-4.4],[228,-5.1],[231,-4.6],[234,-5.0],[237,-4.3],[240,-5.3],[243,-4.5],[246,-5.1],[249,-4.4],[252,-5.0],[254,-6.5],[256,-4.6],[258,-5.2],[260,-4.3],[262,-6.4],[264,-4.5],[266,-3.7],[268,-4.9],[270,-4.2],[272,-5.2],[274,-4.4],[277,-4.9],[280,-3.6],[282,-4.8],[285,-4.5],[288,-4.9],[291,-4.6],[294,-4.8],[297,-4.5],[300,-4.6],[303,-4.4],[306,-4.7],[309,-4.5],[312,-4.6],[315,-4.4],[318,-4.6],[321,-4.4],[324,-4.7],[327,-4.5],[330,-4.8],[333,-4.4],[336,-4.9],[339,-4.5],[342,-4.7],[345,-4.4],[348,-5.0],[351,-4.5],[354,-4.9],[357,-4.3],[360,-5.0],[363,-4.4],[366,-5.2],[368,-4.5],[370,-6.6],[372,-4.6],[375,-5.2],[378,-4.5],[381,-4.9],[384,-4.3],[387,-5.1],[390,-4.6],[393,-5.0],[396,-4.8],[399,-5.5],[402,-4.9],[405,-6.2],[407,-5.0],[409,-6.8],[411,-4.8],[413,-5.9],[415,-4.7],[417,-6.4],[419,-5.0],[421,-7.0],[423,-4.9],[425,-5.6],[427,-4.6],[429,-7.1],[431,-4.8],[433,-6.0],[435,-4.7],[437,-5.3],[439,-4.5],[441,-6.3],[443,-4.4],[445,-5.5],[447,-4.2],[449,-5.2],[451,-4.0],[453,-5.0],[455,-4.1],[457,-4.6],[459,-4.0],[461,-5.3],[463,-4.2],[465,-4.5],[467,-3.9],[469,-4.8],[471,-3.8],[473,-5.1],[475,-3.9],[477,-4.7],[479,-3.7],[481,-4.6],[483,-3.9],[485,-5.0],[487,-3.8],[489,-4.4],[491,-3.8],[493,-5.2],[495,-4.0],[497,-4.5],[499,-3.9],[501,-5.1],[503,-4.0],[505,-4.4],[507,-3.9],[509,-4.3],[511,-4.0],[513,-5.6],[515,-4.0],[517,-4.6],[519,-3.8],[521,-5.0],[523,-4.1],[525,-6.0],[527,-4.2],[529,-4.8],[531,-3.9],[533,-5.4],[535,-4.0],[537,-5.0],[539,-4.1],[541,-6.0],[543,-4.2],[545,-5.2],[547,-3.9],[549,-5.5],[551,-4.3],[553,-4.8],[555,-3.9],[557,-5.8],[559,-4.2],[561,-5.0],[563,-3.8],[565,-5.6],[567,-4.1],[569,-4.7],[571,-4.0],[573,-6.0],[575,-4.2],[577,-5.1],[579,-4.0],[581,-5.8],[583,-4.5],[585,-3.4],[587,-4.6],[589,-5.5],[591,-4.3],[593,-7.0],[595,-4.4],[597,-5.6],[599,-4.1],[600,-4.4]];
const phaseOddStatic = [[-80,-7.3],[-76,-6.8],[-72,-6.4],[-68,-6.0],[-64,-5.7],[-60,-5.4],[-56,-5.2],[-52,-5.0],[-48,-4.8],[-45,-4.7],[-43.5,-1.8],[-42,-3.5],[-40.5,-6.0],[-39,-3.0],[-37,-4.6],[-35.5,-3.2],[-34,-5.5],[-32.5,-3.6],[-31,-4.9],[-29.5,-3.9],[-28,-5.8],[-26.5,-4.6],[-25,-5.4],[-23,-8.3],[-21.5,-5.4],[-20,-6.2],[-18.5,-4.6],[-17,-6.8],[-15.5,-5.0],[-14,-8.3],[-12.5,-5.2],[-11,-5.6],[-9,-5.3],[-7,-5.5],[-5,-5.2],[-3,-6.0],[-1,-5.3],[1,-6.2],[3,-5.2],[5,-5.5],[7,-4.9],[9,-5.1],[11,-4.7],[13,-5.2],[15,-4.3],[17,-4.9],[19,-3.7],[20.5,-4.4],[22,-4.2],[24,-4.6],[26,-4.3],[28,-4.8],[30,-4.3],[32,-3.6],[33.5,-3.2],[35,-4.0],[37,-4.5],[39,-4.6],[42,-4.7],[47,-4.8],[52,-4.9],[57,-5.0],[62,-5.05],[67,-5.1],[72,-5.15],[77,-5.2],[82,-5.2],[87,-5.25],[92,-5.25],[97,-5.2],[100,-5.1],[102,-5.4],[104,-4.6],[106,-5.0],[108,-5.3],[110,-7.0],[112,-5.0],[114,-4.4],[116,-5.8],[118,-4.5],[120,-6.5],[122,-4.6],[124,-5.9],[126,-4.4],[128,-6.7],[130,-4.3],[132,-5.2],[134,-4.5],[136,-6.6],[138,-4.2],[140,-4.8],[143,-4.1],[146,-4.6],[149,-3.9],[152,-4.4],[155,-3.8],[158,-4.3],[161,-3.8],[164,-4.1],[167,-3.7],[170,-4.0],[173,-3.6],[176,-3.9],[179,-3.5],[182,-3.8],[185,-3.5],[188,-3.7],[191,-3.4],[195,-3.6],[199,-3.4],[203,-3.5],[208,-3.4],[213,-3.4],[218,-3.35],[223,-3.3],[228,-3.3],[232,-3.2],[234.5,-2.7],[236,-3.4],[238,-3.5],[241,-3.3],[244,-3.7],[247,-3.4],[250,-3.6],[252,-2.3],[253.5,-3.6],[256,-3.9],[258,-3.3],[260,-3.7],[262,-2.3],[263.5,-3.6],[266,-3.4],[269,-3.8],[272,-3.5],[275,-4.0],[278,-3.4],[281,-3.7],[284,-3.5],[287,-4.2],[290,-3.6],[293,-3.9],[296,-3.5],[299,-3.8],[302,-3.5],[305,-4.1],[308,-3.6],[311,-3.9],[314,-3.6],[317,-4.3],[320,-3.9],[323,-4.8],[325,-5.3],[327,-4.2],[329,-8.0],[331,-4.3],[334,-3.9],[337,-4.2],[340,-4.0],[345,-3.9],[350,-3.8],[355,-3.7],[360,-3.8],[365,-3.9],[370,-4.0],[375,-4.1],[378,-5.0],[380,-7.7],[382,-5.0],[385,-4.3],[390,-4.5],[395,-4.8],[400,-5.2],[405,-4.9],[410,-4.7],[413,-5.0],[417,-5.6],[420,-5.3],[423,-4.6],[428,-4.3],[433,-4.4],[438,-4.6],[443,-5.1],[448,-5.6],[452,-6.5],[454,-8.1],[456,-6.0],[458,-6.9],[460,-5.2],[464,-4.5],[468,-4.2],[472,-4.1],[476,-4.15],[480,-4.3],[485,-4.5],[490,-4.8],[494,-5.0],[497,-5.5],[499,-6.0],[501,-6.6],[503,-8.4],[505,-6.2],[507,-7.3],[509,-5.5],[511,-6.5],[513,-5.2],[515,-5.9],[517,-4.9],[519,-6.4],[521,-4.8],[523,-5.5],[525,-4.6],[527,-6.0],[529,-4.5],[531,-5.2],[533,-4.4],[535,-6.3],[537,-4.3],[539,-5.1],[541,-4.1],[543,-5.6],[545,-4.0],[547,-5.0],[549,-3.9],[551,-5.9],[553,-3.8],[555,-4.8],[557,-3.6],[559,-3.1],[561,-3.8],[563,-5.0],[565,-3.6],[567,-4.4],[569,-3.7],[571,-5.3],[573,-3.7],[575,-4.0],[578,-3.6],[581,-3.9],[584,-3.5],[587,-3.7],[590,-3.6],[593,-3.8],[596,-3.5],[598,-3.7],[600,-5.2]];
const phaseOddQ = [[-80,1.3],[-60,1.3],[-40,1.3],[-30,1.3],[-25,1.2],[-22,0.9],[-19,0.6],[-17,0.2],[-15.5,-0.5],[-14.5,-1.8],[-13,-0.4],[-11,-1.8],[-9.5,-0.5],[-8,-1.3],[-6,-1.0],[-4.5,-2.2],[-3,-1.4],[-1.5,-0.6],[0,-1.6],[1.5,-0.8],[2.5,-2.0],[4,-1.1],[6,-3.5],[7,-1.5],[8.5,-2.2],[10,-1.3],[11.5,-2.8],[13,-1.0],[14.5,-0.3],[16,-1.6],[17.5,-0.8],[19,0.3],[20.5,-0.9],[22,-0.5],[24,-1.0],[26,-0.6],[28,-0.3],[30,-0.1],[32,0.2],[34,0.3],[36,0.0],[38,-0.5],[40,-0.8],[42,-1.3],[44,-1.5],[46,-2.0],[48,-1.7],[50,-2.2],[52,-3.4],[53.5,-1.8],[55,-2.5],[56.5,-1.6],[58,-2.4],[59.5,-1.5],[61,-3.0],[62.5,-1.7],[64,-2.1],[65.5,-1.3],[68,-3.9],[69.5,-1.4],[71,-1.2],[73,-1.1],[76,-1.3],[79,-1.0],[82,-1.2],[85,-1.1],[88,-1.3],[91,-1.4],[93,-1.8],[95,-1.5],[97,-1.9],[99,-1.3],[101,-1.6],[103,-1.0],[105,-1.4],[107,-0.7],[109,-1.1],[111,-0.6],[113,-1.0],[115,-0.5],[117,-2.0],[118.5,-0.6],[120,-1.8],[122,-0.3],[124,0.3],[126,0.8],[129,1.1],[132,1.2],[136,1.3],[150,1.3],[200,1.3],[230,1.3],[260,1.32],[272,1.35],[278,1.45],[285,1.55],[295,1.6],[330,1.62],[400,1.62],[450,1.63],[500,1.63],[550,1.64],[565,1.66],[575,1.7],[600,1.72]];

// ---------------- STYLE / LAYOUT ----------------
const SERIF = "'Liberation Serif','Times New Roman','DejaVu Serif',serif";
const C_BLUE = '#3a93e4', C_YEL = '#c4c400', C_DOT = '#0b260b', C_GREEN = '#0c3300';
const DASHDOT = [7,3,2,3], DOTTED = [2,2];

function rich(fs){
  const s = Math.round(fs*0.7*10)/10, lh = fs+6;
  const b = {fontFamily:SERIF, color:'#000', fill:'#000'};
  return {
    t:Object.assign({fontSize:fs, lineHeight:lh}, b),
    i:Object.assign({fontSize:fs, lineHeight:lh, fontStyle:'italic'}, b),
    sup:Object.assign({fontSize:s, lineHeight:s, verticalAlign:'top'}, b),
    sub:Object.assign({fontSize:s, lineHeight:s, verticalAlign:'bottom'}, b)
  };
}
const TITLE_MAIN = '{t|BBH Dynamical Capture — RWZ Master Functions comparison extracted at R=100}{i|M}{sub|☉}';
const TITLE_L = '{t|Even parity sector: (4,4) mode — Ψ}{sup|(e)}{t|, Ψ}{sup|(e)}{sub|static}{t|, }{i|Q}{sub|+}';
const TITLE_R = '{t|Odd parity sector: (3,2) mode — Ψ}{sup|(o)}{t|, Ψ}{sup|(o)}{sub|static}{t|, }{i|Q}{sub|×}';

const LEG = {
  psiE:'{t|Ψ}{sup|(e)}', psiEs:'{t|Ψ}{sup|(e)}{sub|static}', qP:'{i|Q}{sub|+}',
  psiO:'{t|Ψ}{sup|(o)}', psiOs:'{t|Ψ}{sup|(o)}{sub|static}', qX:'{i|Q}{sub|×}',
  ampE_s:'{t|Ψ}{sup|(e)}{t| - Ψ}{sup|(e)}{sub|static}', ampE_q:'{t|Ψ}{sup|(e)}{t| - }{i|Q}{sub|+}',
  ampO_s:'{t|Ψ}{sup|(o)}{t| - Ψ}{sup|(o)}{sub|static}', ampO_q:'{t|Ψ}{sup|(o)}{t| - }{i|Q}{sub|×}',
  phE_s:'{t|Ψ}{sup|(e)}{t| - Ψ}{sup|(e)}{sub|static}', phE_q:'{t|Ψ}{sup|(e)}{t| - }{i|Q}{sub|+}',
  phO_s:'{t|Ψ}{sup|(o)}{t| - Ψ}{sup|(o)}{sub|static}', phO_q:'{t|Ψ}{sup|(o)}{t| - }{i|Q}{sub|×}'
};
const LEG_POS = [['psiE',337,80],['psiEs',337,109],['qP',337,131],['psiO',1003,80],['psiOs',1003,109],['qX',1003,131],
  ['ampE_s',100,681],['ampE_q',250,681],['ampO_s',767,681],['ampO_q',915,681],
  ['phE_s',396,852],['phE_q',524,852],['phO_s',767,852],['phO_q',915,852]];

const panels = [
  {g:[90,66,575,294], y:[-0.0021,0.0021], maj:yTicksReEven, step:0.0001, dec:4, gap:58,
   name:'{t|ℜΨ}{sup|even}{sub|44}{t| ,  |Ψ}{sup|even}{sub|44}{t||}'},
  {g:[755,66,575,294], y:[-0.00347,0.00347], maj:yTicksReOdd, step:0.0002, dec:3, gap:52,
   name:'{t|ℜΨ}{sup|odd}{sub|32}{t| ,  |Ψ}{sup|odd}{sub|32}{t||}'},
  {g:[90,384,575,146], y:[-1,2], maj:yTicksOmega, step:0.2, dec:0, gap:26, name:'{i|Mω}{sup|even}{sub|44}'},
  {g:[755,384,575,146], y:[-1,2], maj:yTicksOmega, step:0.2, dec:0, gap:26, name:'{i|Mω}{sup|odd}{sub|32}'},
  {g:[90,555,575,148], y:[-10.6,-1.5], maj:yTicksAmpEven, step:0.5, dec:0, gap:32,
   name:'{t|log}{sub|10}{t|(|Δ}{i|A}{sup|(e)}{sub|44}{t||/}{i|A}{sup|(e)}{sub|44}{t|)}'},
  {g:[755,555,575,148], y:[-12.1,1.9], maj:yTicksAmpOdd, step:1, dec:0, gap:32,
   name:'{t|log}{sub|10}{t|(|Δ}{i|A}{sup|(o)}{sub|32}{t||/}{i|A}{sup|(o)}{sub|32}{t|)}'},
  {g:[90,725,575,148], y:[-9.13,-1.55], maj:yTicksPhEven, step:0.5, dec:0, gap:32, bottom:true,
   name:'{t|log}{sub|10}{t|(|Δ}{i|φ}{sup|even}{sub|44}{t||)}'},
  {g:[755,725,575,148], y:[-11.6,2.6], maj:yTicksPhOdd, step:1, dec:0, gap:32, bottom:true,
   name:'{t|log}{sub|10}{t|(|Δ}{i|φ}{sup|odd}{sub|32}{t||)}'}
];

function stepTicks(lo, hi, step){
  const out = []; const a = Math.ceil(lo/step - 1e-9), b = Math.floor(hi/step + 1e-9);
  for (let k = a; k <= b; k++) out.push(+(k*step).toFixed(10));
  return out;
}
function fmt(v, d){ const s = (Math.abs(v) < 1e-12 ? 0 : v).toFixed(d); return s.replace('-', '−'); }
const xMinorTicks = stepTicks(-80, 600, 20);
const sc = a => a.map(p => [p[0], p[1]*PSI_UNIT]);

const grid = [], xAxis = [], yAxis = [];
const tickLine = {color:'#000', width:1};
const noLine = {show:false, onZero:false};
panels.forEach((p, i) => {
  grid.push({left:p.g[0], top:p.g[1], width:p.g[2], height:p.g[3], show:true, borderColor:'#000', borderWidth:1.2,
    backgroundColor:'transparent', containLabel:false, outerBoundsMode:'none'});
  const xb = {gridIndex:i, type:'value', min:-80, max:600, axisLine:noLine, splitLine:{show:false}};
  xAxis.push(Object.assign({}, xb, {position:'bottom',
    axisTick:{show:true, inside:true, length:6, customValues:xMajorTicks, lineStyle:tickLine},
    axisLabel:{show:!!p.bottom, customValues:xMajorTicks, margin:6, color:'#000', fontFamily:SERIF, fontSize:15},
    name:p.bottom ? 'u/M' : '', nameLocation:'middle', nameGap:24,
    nameTextStyle:{fontFamily:SERIF, fontSize:18, fontStyle:'italic', color:'#000'}}));
  xAxis.push(Object.assign({}, xb, {position:'bottom',
    axisTick:{show:true, inside:true, length:3, customValues:xMinorTicks, lineStyle:tickLine}, axisLabel:{show:false}}));
  xAxis.push(Object.assign({}, xb, {position:'top',
    axisTick:{show:true, inside:true, length:6, customValues:xMajorTicks, lineStyle:tickLine}, axisLabel:{show:false}}));
  xAxis.push(Object.assign({}, xb, {position:'top',
    axisTick:{show:true, inside:true, length:3, customValues:xMinorTicks, lineStyle:tickLine}, axisLabel:{show:false}}));
  const yb = {gridIndex:i, type:'value', min:p.y[0], max:p.y[1], axisLine:noLine, splitLine:{show:false}};
  const yMinor = stepTicks(p.y[0], p.y[1], p.step);
  yAxis.push(Object.assign({}, yb, {position:'left',
    axisTick:{show:true, inside:true, length:6, customValues:p.maj, lineStyle:tickLine},
    axisLabel:{show:true, customValues:p.maj, formatter:v => fmt(v, p.dec), margin:6, color:'#000', fontFamily:SERIF, fontSize:15},
    name:p.name, nameLocation:'middle', nameRotate:90, nameGap:p.gap,
    nameTextStyle:{fontFamily:SERIF, fontSize:15, color:'#000', rich:rich(15)}}));
  yAxis.push(Object.assign({}, yb, {position:'left',
    axisTick:{show:true, inside:true, length:3, customValues:yMinor, lineStyle:tickLine}, axisLabel:{show:false}}));
  yAxis.push(Object.assign({}, yb, {position:'right',
    axisTick:{show:true, inside:true, length:6, customValues:p.maj, lineStyle:tickLine}, axisLabel:{show:false}}));
  yAxis.push(Object.assign({}, yb, {position:'right',
    axisTick:{show:true, inside:true, length:3, customValues:yMinor, lineStyle:tickLine}, axisLabel:{show:false}}));
});

function ln(pi, name, data, color, width, dash, smooth){
  return {type:'line', name, xAxisIndex:4*pi, yAxisIndex:4*pi, data, symbol:'none', showSymbol:false,
    smooth: smooth ? 0.35 : false, smoothMonotone: smooth ? 'x' : undefined, clip:true, silent:true,
    lineStyle:{color, width, type: dash || 'solid', cap:'butt', join:'round'}, itemStyle:{color},
    emphasis:{disabled:true}};
}
const qOddRe = qOddReEarly.concat(psiOddRe.filter(p => p[0] > 6 && p[0] < 420), qOddReLate);
const qOddAbs = qOddAbsEarly.concat(psiOddAbs.filter(p => p[0] > 6 && p[0] < 420), qOddAbsLate);

const series = [
  ln(0,'psiE_abs',sc(psiEvenAbs),C_BLUE,1.1,null,true), ln(0,'psiE',sc(psiEvenRe),C_BLUE,2.4,null,true),
  ln(0,'psiEs_abs',sc(psiEvenAbs),C_YEL,1.1,DASHDOT,true), ln(0,'psiEs',sc(psiEvenRe),C_YEL,2.2,DASHDOT,true),
  ln(0,'qP_abs',sc(psiEvenAbs),C_DOT,1.1,DOTTED,true), ln(0,'qP',sc(psiEvenRe),C_DOT,2.0,DOTTED,true),
  ln(1,'psiO_abs',sc(psiOddAbs),C_BLUE,1.1,null,true), ln(1,'psiO',sc(psiOddRe),C_BLUE,2.4,null,true),
  ln(1,'psiOs_abs',sc(psiOddAbs),C_YEL,1.1,DASHDOT,true), ln(1,'psiOs',sc(psiOddRe),C_YEL,2.2,DASHDOT,true),
  ln(1,'qX_abs',sc(qOddAbs),C_DOT,1.1,DOTTED,true), ln(1,'qX',sc(qOddRe),C_DOT,2.0,DOTTED,true),
  ln(2,'omE_b',omegaEven,C_BLUE,2.4), ln(2,'omE_y',omegaEven,C_YEL,2.2,DASHDOT), ln(2,'omE_q',omegaEven,C_DOT,2.0,DOTTED),
  ln(3,'omO_b',omegaOdd,C_BLUE,2.4), ln(3,'omO_y',omegaOdd,C_YEL,2.2,DASHDOT), ln(3,'omO_q',qOmegaOdd,C_DOT,2.0,DOTTED),
  ln(4,'ampE_s',ampEvenStatic,C_YEL,1.8), ln(4,'ampE_q',ampEvenQ,C_GREEN,1.8),
  ln(5,'ampO_s',ampOddStatic,C_YEL,1.8), ln(5,'ampO_q',ampOddQ,C_GREEN,1.8),
  ln(6,'phE_s',phaseEvenStatic,C_YEL,1.8), ln(6,'phE_q',phaseEvenQ,C_GREEN,1.8),
  ln(7,'phO_s',phaseOddStatic,C_YEL,1.8), ln(7,'phO_q',phaseOddQ,C_GREEN,1.8)
];

const legend = LEG_POS.map(([n, l, cy]) => ({data:[n], left:l, top:cy-7, padding:0, itemWidth:35, itemHeight:14,
  itemGap:0, selectedMode:false, formatter:nm => LEG[nm],
  itemStyle:{color:'rgba(0,0,0,0)', borderWidth:0, opacity:0},
  textStyle:{fontFamily:SERIF, fontSize:14, color:'#000', rich:rich(14)}}));

const graphic = [
  {type:'text', x:683, y:17, style:{text:TITLE_MAIN, rich:rich(18.5), fontFamily:SERIF, fontSize:18.5, fill:'#000', align:'center', verticalAlign:'middle'}},
  {type:'text', x:379, y:52, style:{text:TITLE_L, rich:rich(17), fontFamily:SERIF, fontSize:17, fill:'#000', align:'center', verticalAlign:'middle'}},
  {type:'text', x:1046, y:52, style:{text:TITLE_R, rich:rich(17), fontFamily:SERIF, fontSize:17, fill:'#000', align:'center', verticalAlign:'middle'}}
];

const chart = echarts.init(document.getElementById('c'), null, {renderer:'canvas', width:1356, height:913});
chart.setOption({animation:false, backgroundColor:'#fff', grid, xAxis, yAxis, series, legend, graphic, tooltip:{show:false}});
</script></body></html>
